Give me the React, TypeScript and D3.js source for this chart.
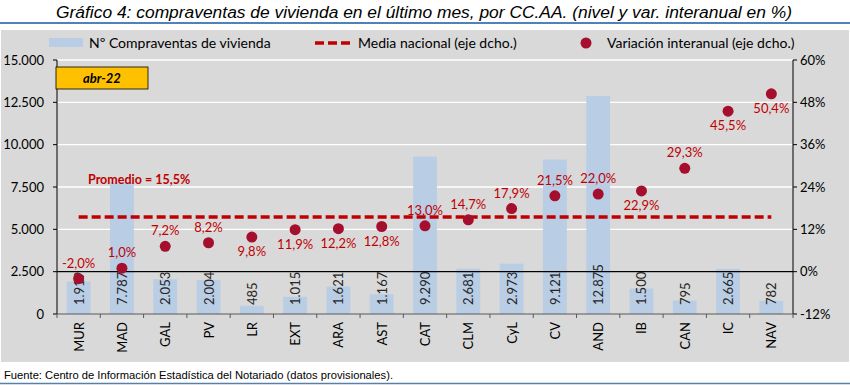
import { useEffect } from "react";
import * as d3 from "d3";

const W = 850;
const H = 385;
const M = { top: 60, right: 57, bottom: 71, left: 57 };

const regions = ["MUR", "MAD", "GAL", "PV", "LR", "EXT", "ARA", "AST", "CAT", "CLM", "CyL", "CV", "AND", "IB", "CAN", "IC", "NAV"];
const sales = [1919, 7787, 2053, 2004, 485, 1015, 1621, 1167, 9290, 2681, 2973, 9121, 12875, 1500, 795, 2665, 782];
const yoy = [-2.0, 1.0, 7.2, 8.2, 9.8, 11.9, 12.2, 12.8, 13.0, 14.7, 17.9, 21.5, 22.0, 22.9, 29.3, 45.5, 50.4];
// label above (true) or below (false) the point
const labelAbove = [true, true, true, true, false, false, false, false, true, true, true, true, true, false, true, false, false];
const nationalAvg = 15.5;
const leftTicks = [0, 2500, 5000, 7500, 10000, 12500, 15000];
const rightTicks = [-12, 0, 12, 24, 36, 48, 60];

const es = d3.formatLocale({ decimal: ",", thousands: ".", grouping: [3], currency: ["", "€"], minus: "-" });
const fmtInt = es.format(",d");
const fmtPct = es.format(".1f");

const FONT = "Lato, 'Open Sans', sans-serif";
const BAR = "#B9CDE5";
const DOT = "#A50F2D";
const RED = "#C00000";

export default function App() {
  useEffect(() => {
    document.body.style.margin = "0";
  }, []);

  const x = d3.scaleBand<string>().domain(regions).range([M.left, W - M.right]).paddingInner(0.45).paddingOuter(0.225);
  const xb = d3.scaleBand<string>().domain(regions).range([M.left, W - M.right]);
  const yL = d3.scaleLinear().domain([0, 15000]).range([H - M.bottom, M.top]);
  const yR = d3.scaleLinear().domain([-12, 60]).range([H - M.bottom, M.top]);

  const cx = (r: string) => (xb(r) ?? 0) + xb.bandwidth() / 2;
  const avgLine = d3.line<string>().x((r) => cx(r)).y(() => yR(nationalAvg))(regions) ?? "";
  const y0 = H - M.bottom;

  return (
    <svg width={W} height={H} style={{ display: "block" }} fontFamily={FONT}>
      <rect width={W} height={H} fill="#fff" />
      <text x={424} y={18} textAnchor="middle" fontFamily="'Liberation Sans', Arial, sans-serif" fontStyle="italic" fontSize={17.4} fill="#000">
        Gráfico 4: compraventas de vivienda en el último mes, por CC.AA. (nivel y var. interanual en %)
      </text>
      <line x1={0} x2={W} y1={23} y2={23} stroke="#4F81BD" strokeWidth={2} />
      <rect x={1} y={30} width={W - 2} height={332} fill="#D9D9D9" />

      {/* legend */}
      <rect x={49} y={38} width={34} height={9} fill={BAR} />
      <text x={89} y={48} fontSize={14} fill="#000">Nº Compraventas de vivienda</text>
      <line x1={315} x2={351} y1={43} y2={43} stroke={RED} strokeWidth={3.5} strokeDasharray="9,4" />
      <text x={358} y={48} fontSize={14} fill="#000">Media nacional (eje dcho.)</text>
      <circle cx={586} cy={43} r={5.5} fill={DOT} />
      <text x={607} y={48} fontSize={14} fill="#000">Variación interanual (eje dcho.)</text>

      {/* gridlines */}
      {leftTicks.filter((t) => t > 0).map((t) => (
        <line key={t} x1={M.left} x2={W - M.right} y1={yL(t)} y2={yL(t)} stroke="#fff" strokeWidth={1.3} />
      ))}

      {/* bars */}
      {regions.map((r, i) => (
        <rect key={r} x={x(r)} y={yL(sales[i])} width={x.bandwidth()} height={y0 - yL(sales[i])} fill={BAR} />
      ))}

      {/* zero line of right axis */}
      <line x1={M.left} x2={W - M.right} y1={yR(0)} y2={yR(0)} stroke="#000" strokeWidth={1.2} />

      {/* bar value labels */}
      {regions.map((r, i) => (
        <text key={r} transform={`translate(${cx(r) + 5},${y0 - 9}) rotate(-90)`} fontSize={13} fill="#262626">
          {fmtInt(sales[i])}
        </text>
      ))}

      {/* national average */}
      <path d={avgLine} fill="none" stroke={RED} strokeWidth={3.5} strokeDasharray="9,4" />
      <text x={88} y={184} fontSize={12.5} fontWeight="bold" fill={RED}>
        Promedio = {fmtPct(nationalAvg)}%
      </text>

      {/* points */}
      {regions.map((r, i) => (
        <g key={r}>
          <circle cx={cx(r)} cy={yR(yoy[i])} r={5.5} fill={DOT} />
          <text x={cx(r)} y={yR(yoy[i]) + (labelAbove[i] ? -11 : 19)} textAnchor="middle" fontSize={13} fill={RED}>
            {fmtPct(yoy[i])}%
          </text>
        </g>
      ))}

      {/* axes */}
      <line x1={M.left} x2={M.left} y1={M.top} y2={y0} stroke="#000" />
      <line x1={W - M.right} x2={W - M.right} y1={M.top} y2={y0} stroke="#000" />
      <line x1={M.left} x2={W - M.right} y1={y0} y2={y0} stroke="#595959" />
      {leftTicks.map((t) => (
        <g key={t}>
          <line x1={M.left - 4} x2={M.left} y1={yL(t)} y2={yL(t)} stroke="#000" />
          <text x={44} y={yL(t) + 4.5} textAnchor="end" fontSize={13} fill="#000">{fmtInt(t)}</text>
        </g>
      ))}
      {rightTicks.map((t) => (
        <g key={t}>
          <line x1={W - M.right} x2={W - M.right + 4} y1={yR(t)} y2={yR(t)} stroke="#000" />
          <text x={800} y={yR(t) + 4.5} fontSize={13} fill="#000">{t}%</text>
        </g>
      ))}
      {regions.map((r) => (
        <line key={r} x1={xb(r)} x2={xb(r)} y1={y0} y2={y0 + 4} stroke="#595959" />
      ))}
      <line x1={W - M.right} x2={W - M.right} y1={y0} y2={y0 + 4} stroke="#595959" />
      {regions.map((r) => (
        <text key={r} transform={`translate(${cx(r) + 5},${y0 + 8}) rotate(-90)`} textAnchor="end" fontSize={13} fill="#000">
          {r}
        </text>
      ))}

      {/* period box */}
      <rect x={56} y={67} width={92} height={22} fill="#FFC000" stroke="#000" strokeWidth={0.8} />
      <text x={102} y={83} textAnchor="middle" fontSize={13} fontWeight="bold" fontStyle="italic" fill="#000">abr-22</text>

      {/* footer */}
      <text x={4} y={379} fontFamily="'Liberation Sans Narrow', 'Liberation Sans', Arial, sans-serif" fontSize={11.5} textLength={389} lengthAdjust="spacingAndGlyphs" fill="#000">
        Fuente: Centro de Información Estadística del Notariado (datos provisionales).
      </text>
      <line x1={0} x2={W} y1={383.5} y2={383.5} stroke="#5B7FA6" strokeWidth={1.5} />
    </svg>
  );
}
